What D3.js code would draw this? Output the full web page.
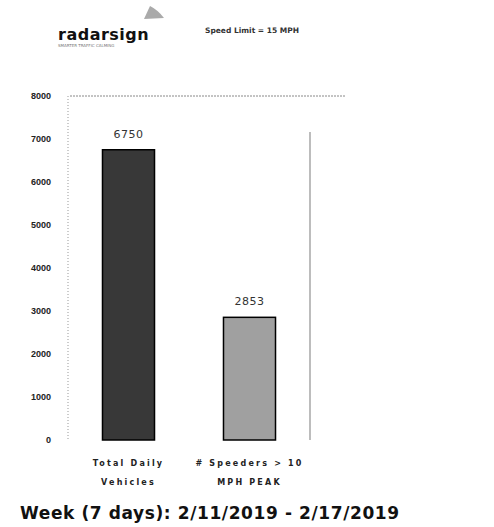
<!DOCTYPE html>
<html>
<head>
<meta charset="utf-8">
<script src="https://cdn.jsdelivr.net/npm/d3@7/dist/d3.min.js"></script>
<style>
  body { margin: 0; background: #fff; }
  svg { display: block; font-family: "DejaVu Sans", sans-serif; }
</style>
</head>
<body>
<div id="chart"></div>
<script>
var categories = [["Total Daily", "Vehicles"], ["# Speeders > 10", "MPH PEAK"]];
var values = [6750, 2853];
var barColors = ["#383838", "#a0a0a0"];
var yTicks = [0, 1000, 2000, 3000, 4000, 5000, 6000, 7000, 8000];

var width = 494, height = 527;
var svg = d3.select("#chart").append("svg")
    .attr("width", width)
    .attr("height", height);

// header
svg.append("text")
    .attr("x", 58).attr("y", 40)
    .style("font-size", "16px").style("font-weight", "bold")
    .style("letter-spacing", "0.5px")
    .attr("fill", "#111")
    .text("radarsign");
svg.append("text")
    .attr("x", 58).attr("y", 47)
    .style("font-size", "4px").attr("fill", "#777")
    .text("SMARTER TRAFFIC CALMING");
svg.append("path")
    .attr("d", "M144,19 L150,6 Q158,10 164,18 Z")
    .attr("fill", "#aaa");
svg.append("text")
    .attr("x", 205).attr("y", 33)
    .style("font-size", "7.5px").style("font-weight", "bold")
    .attr("fill", "#333")
    .text("Speed Limit = 15 MPH");

var y = d3.scaleLinear().domain([0, 8000]).range([440, 96]);
var x = d3.scaleBand()
    .domain(d3.range(categories.length))
    .range([68, 310])
    .paddingInner(0.57)
    .paddingOuter(0.285);

// frame
svg.append("line")
    .attr("x1", 68).attr("x2", 68).attr("y1", y(8000)).attr("y2", y(0))
    .attr("stroke", "#999").attr("stroke-dasharray", "1,2");
svg.append("line")
    .attr("x1", 70).attr("x2", 345).attr("y1", y(8000)).attr("y2", y(8000))
    .attr("stroke", "#888").attr("stroke-dasharray", "2,1");
svg.append("line")
    .attr("x1", 310).attr("x2", 310).attr("y1", 132).attr("y2", y(0))
    .attr("stroke", "#999").attr("stroke-width", 1.3);

// y axis labels
svg.append("g").selectAll("text")
    .data(yTicks)
    .enter()
    .append("text")
      .attr("x", 51)
      .attr("y", function(d){ return y(d) + 3; })
      .attr("text-anchor", "end")
      .style("font-family", "'Liberation Sans', sans-serif")
      .style("font-size", "9px").style("font-weight", "bold")
      .attr("fill", "#222")
      .text(function(d){ return d; });

// bars
svg.append("g").selectAll("rect")
    .data(values)
    .enter()
    .append("rect")
      .attr("x", function(d, i){ return x(i); })
      .attr("y", function(d){ return y(d); })
      .attr("width", x.bandwidth())
      .attr("height", function(d){ return y(0) - y(d); })
      .attr("fill", function(d, i){ return barColors[i]; })
      .attr("stroke", "#000").attr("stroke-width", 1.5);

// value labels
svg.append("g").selectAll("text")
    .data(values)
    .enter()
    .append("text")
      .attr("x", function(d, i){ return x(i) + x.bandwidth() / 2; })
      .attr("y", function(d){ return y(d) - 12; })
      .attr("text-anchor", "middle")
      .style("font-size", "11px")
      .style("letter-spacing", "0.5px")
      .attr("fill", "#333")
      .text(function(d){ return d; });

// category labels
var cat = svg.append("g").selectAll("text")
    .data(categories)
    .enter()
    .append("text")
      .attr("text-anchor", "middle")
      .style("font-size", "8px").style("font-weight", "bold")
      .style("letter-spacing", "2.2px")
      .attr("fill", "#222");
cat.each(function(d, i){
    var t = d3.select(this);
    d.forEach(function(line, j){
        t.append("tspan")
          .attr("x", x(i) + x.bandwidth() / 2)
          .attr("y", 466 + j * 19)
          .text(line);
    });
});

// footer
svg.append("text")
    .attr("x", 20).attr("y", 519)
    .style("font-size", "17px").style("font-weight", "bold")
    .style("letter-spacing", "0.6px")
    .attr("fill", "#111")
    .text("Week (7 days): 2/11/2019 - 2/17/2019");
</script>
</body>
</html>
